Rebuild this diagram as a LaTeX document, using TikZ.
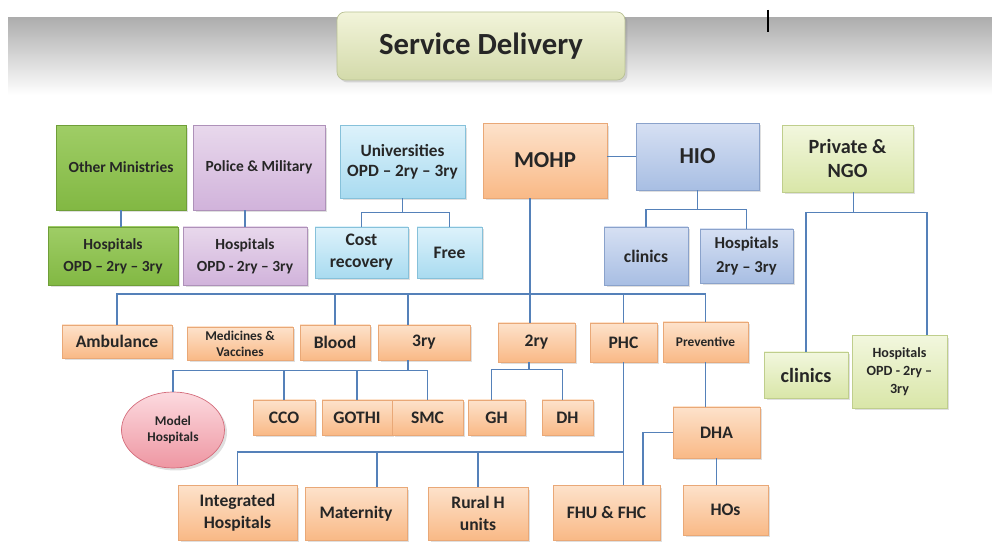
\documentclass[tikz,border=0pt]{standalone}
\usepackage{fontspec}
\setmainfont{Carlito}
\usetikzlibrary{shapes,arrows,calc,positioning,shadows}

\definecolor{orTop}{HTML}{FDE2CB}
\definecolor{orBot}{HTML}{F9B986}
\definecolor{orLine}{HTML}{E9A877}
\definecolor{grTop}{HTML}{9FCD66}
\definecolor{grBot}{HTML}{82B843}
\definecolor{grLine}{HTML}{6F9E38}
\definecolor{puTop}{HTML}{E8D8EC}
\definecolor{puBot}{HTML}{D1B3DB}
\definecolor{puLine}{HTML}{AE91B9}
\definecolor{lbTop}{HTML}{DDF2FB}
\definecolor{lbBot}{HTML}{A9DBF0}
\definecolor{lbLine}{HTML}{86C1DA}
\definecolor{hbTop}{HTML}{D6E0F3}
\definecolor{hbBot}{HTML}{A8BEE3}
\definecolor{hbLine}{HTML}{8AA2CB}
\definecolor{pvTop}{HTML}{F2F7DE}
\definecolor{pvBot}{HTML}{D9E6A8}
\definecolor{pvLine}{HTML}{BFCE8C}
\definecolor{sdTop}{HTML}{F2F4DA}
\definecolor{sdBot}{HTML}{D3DAAA}
\definecolor{sdLine}{HTML}{B9C194}
\definecolor{pkTop}{HTML}{FCDADF}
\definecolor{pkBot}{HTML}{EE96A2}
\definecolor{pkLine}{HTML}{D46D7C}
\definecolor{linkBlue}{HTML}{5581B9}

\begin{document}
\begin{tikzpicture}[x=0.02cm,y=-0.02cm]

  \tikzstyle{box} = [draw,line width=0.4pt,align=center,inner sep=1pt,text=black!85,
    drop shadow={shadow xshift=0.05cm,shadow yshift=-0.05cm,opacity=0.25}]
  \tikzstyle{orbox} = [box,draw=orLine,top color=orTop,bottom color=orBot]
  \tikzstyle{grbox} = [box,draw=grLine,top color=grTop,bottom color=grBot]
  \tikzstyle{pubox} = [box,draw=puLine,top color=puTop,bottom color=puBot]
  \tikzstyle{lbbox} = [box,draw=lbLine,top color=lbTop,bottom color=lbBot]
  \tikzstyle{hbbox} = [box,draw=hbLine,top color=hbTop,bottom color=hbBot]
  \tikzstyle{pvbox} = [box,draw=pvLine,top color=pvTop,bottom color=pvBot]
  \tikzstyle{tinytext} = [font=\bfseries\fontsize{7.6}{9}\selectfont]
  \tikzstyle{smalltext} = [font=\bfseries\fontsize{8.8}{12.5}\selectfont]
  \tikzstyle{normaltext} = [font=\bfseries\fontsize{10}{12.5}\selectfont]
  \tikzstyle{largetext} = [font=\bfseries\fontsize{11.5}{14}\selectfont]
  \tikzstyle{hugetext} = [font=\bfseries\fontsize{13}{15}\selectfont]
  \tikzstyle{link} = [draw=linkBlue,line width=0.8pt]

  \useasboundingbox (0,0) rectangle (992,543);
  \shade[top color=black!32,bottom color=white] (8,18) rectangle (992,95);
  \draw[line width=0.04cm] (768,10) -- (768,32);

  \node[box,draw=sdLine,top color=sdTop,bottom color=sdBot,rounded corners=0.16cm,
    minimum width=5.76cm,minimum height=1.36cm,font=\bfseries\fontsize{17.5}{20}\selectfont] (sd) at (481,46) {Service Delivery};

  % top row
  \node[grbox,smalltext,minimum width=2.6cm,minimum height=1.7cm] (om) at (121,167.5) {Other Ministries};
  \node[pubox,smalltext,minimum width=2.64cm,minimum height=1.7cm] (pm) at (259,167.5) {Police \& Military};
  \node[lbbox,font=\bfseries\fontsize{9.8}{11.5}\selectfont,minimum width=2.5cm,minimum height=1.46cm] (uni) at (402.5,161.5) {Universities\\OPD – 2ry – 3ry};
  \node[orbox,hugetext,minimum width=2.48cm,minimum height=1.5cm] (mohp) at (545,160.5) {MOHP};
  \node[hbbox,hugetext,minimum width=2.46cm,minimum height=1.34cm] (hio) at (697.5,156.5) {HIO};
  \node[pvbox,largetext,minimum width=2.62cm,minimum height=1.34cm] (png) at (847.5,158.5) {Private \&\\NGO};

  \node[grbox,smalltext,minimum width=2.6cm,minimum height=1.16cm] (omh) at (113,256) {Hospitals\\OPD – 2ry – 3ry};
  \node[pubox,smalltext,minimum width=2.48cm,minimum height=1.16cm] (pmh) at (245,256) {Hospitals\\OPD - 2ry – 3ry};
  \node[lbbox,normaltext,minimum width=1.86cm,minimum height=1.02cm] (cost) at (361.5,252.5) {Cost\\recovery};
  \node[lbbox,normaltext,minimum width=1.3cm,minimum height=1.02cm] (free) at (449.5,252.5) {Free};
  \node[hbbox,normaltext,minimum width=1.68cm,minimum height=1.16cm] (hcl) at (646,256) {clinics};
  \node[hbbox,font=\bfseries\fontsize{9.5}{13.5}\selectfont,minimum width=1.86cm,minimum height=1.08cm] (hhos) at (746.5,256) {Hospitals\\2ry – 3ry};
  \node[pvbox,largetext,minimum width=1.68cm,minimum height=0.92cm] (pcl) at (806,375) {clinics};
  \node[pvbox,font=\bfseries\fontsize{8}{10.3}\selectfont,minimum width=1.9cm,minimum height=1.46cm] (phos) at (899.5,371.5) {Hospitals\\OPD - 2ry –\\3ry};

  % MOHP branches
  \node[orbox,normaltext,minimum width=2.2cm,minimum height=0.66cm] (amb) at (117,341.5) {Ambulance};
  \node[orbox,tinytext,minimum width=2.12cm,minimum height=0.66cm] (med) at (240,343.5) {Medicines \&\\Vaccines};
  \node[orbox,normaltext,minimum width=1.4cm,minimum height=0.7cm] (blood) at (335,342.5) {Blood};
  \node[orbox,normaltext,minimum width=1.84cm,minimum height=0.7cm] (try) at (424,342.5) {3ry};
  \node[orbox,normaltext,minimum width=1.54cm,minimum height=0.78cm] (sry) at (536.5,342.5) {2ry};
  \node[orbox,normaltext,minimum width=1.34cm,minimum height=0.78cm] (phc) at (623.5,342.5) {PHC};
  \node[orbox,tinytext,minimum width=1.7cm,minimum height=0.8cm] (prev) at (705.5,342) {Preventive};

  \node[ellipse,box,draw=pkLine,top color=pkTop,bottom color=pkBot,tinytext,minimum width=2.06cm,minimum height=1.52cm] (mh) at (173,430) {Model\\Hospitals};
  \node[orbox,normaltext,minimum width=1.24cm,minimum height=0.7cm] (cco) at (284,417.5) {CCO};
  \node[orbox,normaltext,minimum width=1.4cm,minimum height=0.7cm] (gothi) at (357,417.5) {GOTHI};
  \node[orbox,normaltext,minimum width=1.42cm,minimum height=0.7cm] (smc) at (427.5,417.5) {SMC};
  \node[orbox,normaltext,minimum width=1.14cm,minimum height=0.7cm] (gh) at (496.5,417.5) {GH};
  \node[orbox,normaltext,minimum width=1.02cm,minimum height=0.7cm] (dh) at (567.5,417.5) {DH};
  \node[orbox,normaltext,minimum width=1.74cm,minimum height=1.02cm] (dha) at (716.5,432.5) {DHA};

  \node[orbox,normaltext,minimum width=2.38cm,minimum height=1.1cm] (ih) at (237.5,512.5) {Integrated\\Hospitals};
  \node[orbox,normaltext,minimum width=2.04cm,minimum height=1.06cm] (mat) at (356,513.5) {Maternity};
  \node[orbox,normaltext,minimum width=2.0cm,minimum height=1.06cm] (rural) at (478,513.5) {Rural H\\units};
  \node[orbox,normaltext,minimum width=2.14cm,minimum height=1.1cm] (fhu) at (606.5,512.5) {FHU \& FHC};
  \node[orbox,normaltext,minimum width=1.7cm,minimum height=1.0cm] (hos) at (725.5,510) {HOs};

  % connectors
  \draw[link] (hio.west) -- (hio.west -| mohp.east);
  \draw[link] (om.south) -- (om.south |- omh.north);
  \draw[link] (pmh.north) -- (pmh.north |- pm.south);
  \draw[link] (uni.south) -- ++(0,14) coordinate (ubus);
  \draw[link] (cost.north) |- (ubus) -| (free.north);
  \draw[link] (hio.south) -- ++(0,19) coordinate (hbus);
  \draw[link] (hcl.north) |- (hbus) -| (hhos.north);
  \draw[link] ([xshift=0.12cm]png.south) -- ++(0,20) coordinate (pbus);
  \draw[link] (pcl.north) |- (pbus) -| ([xshift=0.55cm]phos.north);

  \coordinate (mv) at ([xshift=-0.3cm]mohp.south);
  \draw[link] (mv) -- (mv |- sry.north);
  \coordinate (bus) at (530,294);
  \draw[link] (amb.north) |- (bus) -| (prev.north);
  \foreach \n in {blood,phc}
    \draw[link] (\n.north) -- (\n.north |- bus);
  \coordinate (t3) at ([xshift=-0.32cm]try.north);
  \draw[link] (t3) -- (t3 |- bus);

  \draw[link] ([xshift=-0.32cm]try.south) -- ++(0,10) coordinate (tbus);
  \draw[link] (mh.north) |- (tbus) -| (smc.north);
  \foreach \n in {cco,gothi}
    \draw[link] (\n.north) -- (\n.north |- tbus);
  \draw[link] ([xshift=-0.15cm]sry.south) -- ++(0,7) coordinate (sbus);
  \draw[link] ([xshift=-0.1cm]gh.north) |- (sbus) -| ([xshift=-0.1cm]dh.north);

  \draw[link] (phc.south) -- (phc.south |- fhu.north);
  \coordinate (lbus) at (phc.south |- 0,452);
  \draw[link] (ih.north) |- (lbus);
  \draw[link] ([xshift=0.42cm]mat.north) -- ([xshift=0.42cm]mat.north |- lbus);
  \draw[link] (rural.north) -- (rural.north |- lbus);
  \draw[link] (prev.south) -- (prev.south |- dha.north);
  \draw[link] (dha.west) -| ([xshift=0.73cm]fhu.north);
  \draw[link] (dha.south) -- (dha.south |- hos.north);

\end{tikzpicture}
\end{document}
